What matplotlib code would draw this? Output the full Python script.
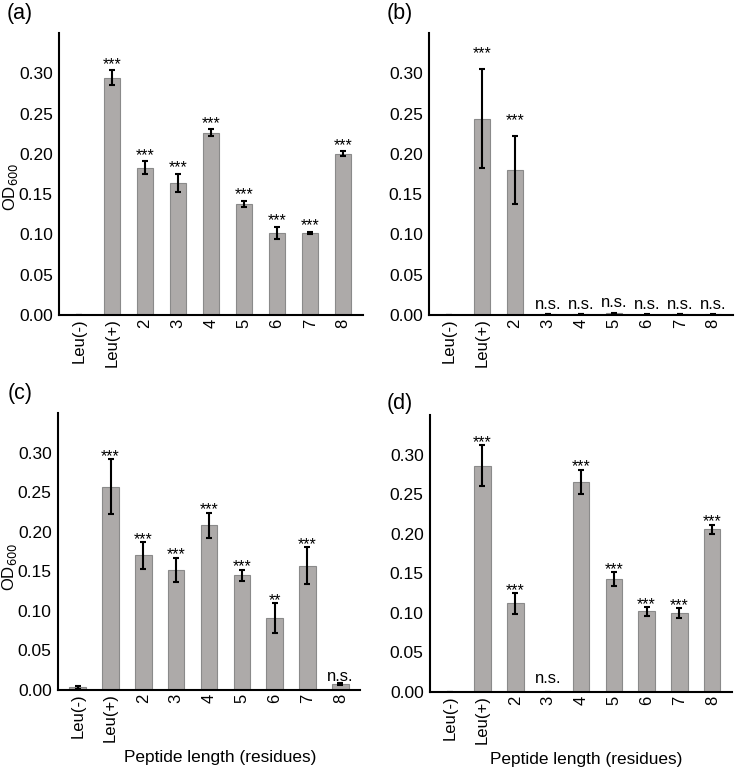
import matplotlib
matplotlib.use("Agg")
import matplotlib.pyplot as plt
import numpy as np

plt.rcParams['font.family'] = ['Liberation Sans', 'DejaVu Sans']

categories = ["Leu(-)", "Leu(+)", "2", "3", "4", "5", "6", "7", "8"]

a_mean = [0.0, 0.2946, 0.183, 0.1636, 0.2264, 0.138, 0.102, 0.102, 0.200]
a_err = [0.0, 0.0093, 0.008, 0.0114, 0.0043, 0.004, 0.0074, 0.001, 0.003]
a_sig = ["", "***", "***", "***", "***", "***", "***", "***", "***"]

b_mean = [0.0005, 0.2434, 0.180, 0.001, 0.001, 0.002, 0.0005, 0.001, 0.0008]
b_err = [0.0, 0.0615, 0.0418, 0.0003, 0.0003, 0.0006, 0.0002, 0.0003, 0.0003]
b_sig = ["", "***", "***", "n.s.", "n.s.", "n.s.", "n.s.", "n.s.", "n.s."]

c_mean = [0.0034, 0.257, 0.170, 0.152, 0.208, 0.145, 0.0906, 0.157, 0.0076]
c_err = [0.002, 0.035, 0.017, 0.015, 0.016, 0.007, 0.019, 0.0236, 0.0007]
c_sig = ["", "***", "***", "***", "***", "***", "**", "***", "n.s."]

d_mean = [0.0, 0.2858, 0.112, 0.0, 0.2652, 0.1427, 0.102, 0.0995, 0.2056]
d_err = [0.0, 0.026, 0.0128, 0.0, 0.0155, 0.0084, 0.0055, 0.0065, 0.0057]
d_sig = ["", "***", "***", "n.s.", "***", "***", "***", "***", "***"]

W, H = 735, 769
# label, mean, err, sig, axes rect, ylabel?, xlabel?, star offset, n.s. offset, panel-label pos (px)
panels = [
    ("(a)", a_mean, a_err, a_sig, [0.0803, 0.5904, 0.4136, 0.3666], True, False, -0.002, 0.003, (7, 3), None),
    ("(b)", b_mean, b_err, b_sig, [0.5837, 0.5904, 0.4136, 0.3666], False, False, 0.010, 0.003, (387, 3), None),
    ("(c)", c_mean, c_err, c_sig, [0.0789, 0.1027, 0.4109, 0.3602], True, True, -0.006, -0.001, (8, 383), 0.536),
    ("(d)", d_mean, d_err, d_sig, [0.5850, 0.1001, 0.4109, 0.3602], False, True, -0.006, 0.007, (387, 393), 0.517),
]

fig = plt.figure(figsize=(W / 100, H / 100), dpi=100)
x = np.arange(len(categories))
for label, mean, err, sig, rect, ylab, xlab, soff, noff, lpos, xlc in panels:
    ax = fig.add_axes(rect)
    ax.bar(x, mean, width=0.5, color="#adaaa9", edgecolor="#8a8a8a", linewidth=0.8)
    ax.errorbar(x, mean, yerr=err, fmt="none", ecolor="black", elinewidth=1.5,
                capsize=2.5, capthick=1.5)
    for xi, m, e, s in zip(x, mean, err, sig):
        if not s:
            continue
        if s == "n.s.":
            ax.text(xi, m + e + noff, s, ha="center", va="bottom", fontsize=12)
        else:
            ax.text(xi, m + e + soff, s, ha="center", va="bottom", fontsize=11.5)
    ax.set_xlim(-0.6, len(categories) - 0.4)
    ax.set_ylim(0, 0.35)
    ax.set_yticks([0, 0.05, 0.10, 0.15, 0.20, 0.25, 0.30])
    ax.set_yticklabels(["0.00", "0.05", "0.10", "0.15", "0.20", "0.25", "0.30"], fontsize=12.5)
    ax.set_xticks(x)
    ax.set_xticklabels(categories, rotation=90, fontsize=12)
    ax.tick_params(axis="x", length=0, pad=2.5)
    ax.tick_params(axis="y", length=0, pad=4.5)
    for sp in ["top", "right"]:
        ax.spines[sp].set_visible(False)
    for sp in ["left", "bottom"]:
        ax.spines[sp].set_linewidth(1.5)
    if ylab:
        ax.set_ylabel("OD$_{600}$", fontsize=12)
        ycen = 0.454 if not xlab else 0.444
        ax.yaxis.set_label_coords(-0.128, ycen)
    if xlab:
        ax.set_xlabel("Peptide length (residues)", fontsize=12.4)
        ax.xaxis.set_label_coords(xlc, -0.215)
    fig.text(lpos[0] / W, 1 - lpos[1] / H, label, fontsize=15.5, ha="left", va="top")

fig.savefig("out.png", dpi=100)
